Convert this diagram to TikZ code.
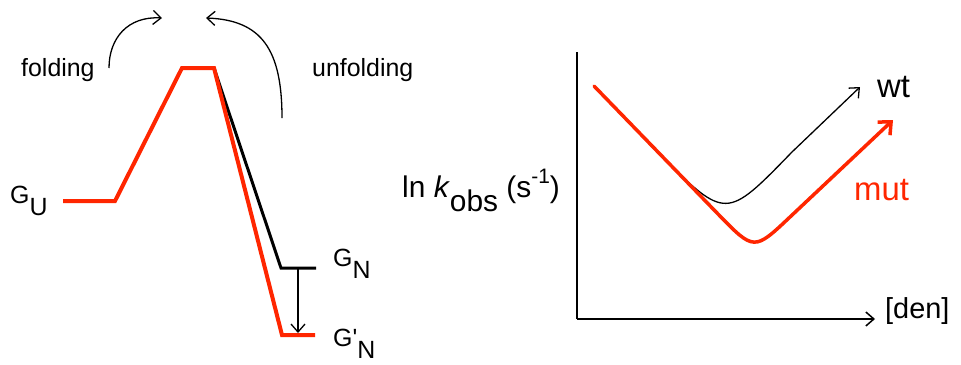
\documentclass[tikz,border=0pt]{standalone}
\usepackage{fontspec}
\setmainfont{Liberation Sans}
\newfontfamily\plainsans{Liberation Sans}
\usetikzlibrary{arrows.meta}
\definecolor{hotred}{RGB}{255,38,0}
\tikzset{
  lvlred/.style={draw=hotred,line width=4bp,line join=miter},
  lvlblk/.style={draw=black,line width=3bp,line join=miter},
  thinarrow/.style={draw=black,line width=1.3bp,-{Straight Barb[length=8bp,width=14bp,line width=1.3bp]}},
  lbl/.style={inner sep=0pt,anchor=base west,font=\fontsize{25}{30}\selectfont},
  rlbl/.style={inner sep=0pt,anchor=base west,font=\fontsize{29}{34}\selectfont},
  curvelbl/.style={inner sep=0pt,anchor=base west,font=\fontsize{33}{38}\selectfont},
}
\newcommand{\lowsub}[1]{\raisebox{-0.5em}{#1}}
\begin{document}
\begin{tikzpicture}[x=1bp,y=-1bp]
\useasboundingbox (0,0) rectangle (961,364);
% left panel coordinates
\coordinate (gu1) at (63,201);
\coordinate (gu2) at (115,201);
\coordinate (ts1) at (182,68);
\coordinate (ts2) at (214,68);
\coordinate (n1) at (281,268);
\coordinate (n2) at (316,268);
\coordinate (m1) at (282,335);
\coordinate (m2) at (315,335);
\coordinate (ar1) at (298,268);
\coordinate (ar2) at (298,333);
\draw[lvlblk] (ts2) -- (n1) -- (n2);
\draw[lvlred] (gu1) -- (gu2) -- (ts1) -- (ts2) -- (m1) -- (m2);
\draw[thinarrow] (ar1) -- (ar2);
% folding / unfolding arrows
\coordinate (fs) at (109,68);
\coordinate (fe) at (162,18);
\coordinate (us) at (282,118);
\coordinate (ue) at (206,18);
\draw[thinarrow] (fs) .. controls (109,38) and (128,16) .. (fe);
\draw[thinarrow] (us) .. controls (282,50) and (262,20) .. (ue);
% labels
\node[lbl] (fold) at (21,76) {folding};
\node[lbl] (unfold) at (312,76) {unfolding};
\node[lbl] (GU) at (10,203) {G\lowsub{U}};
\node[lbl] (GN) at (333,266) {G\lowsub{N}};
\node[lbl] (GNp) at (333,346) {G{\plainsans '}\lowsub{N}};
% right panel
\coordinate (O) at (577,319);
\coordinate (ytop) at (577,52);
\coordinate (xend) at (875,319);
\draw[line width=1.5bp] (ytop) -- (O);
\draw[line width=1.5bp,-{Straight Barb[length=8bp,width=14bp,line width=1.5bp]}] (O) -- (xend);
\coordinate (c0) at (594,86);
\coordinate (b1) at (660,155);
\coordinate (bc) at (726,220);
\coordinate (b2) at (792,152);
\coordinate (bend) at (860,87);
\coordinate (r1) at (718,214);
\coordinate (rc) at (754,251);
\coordinate (r2) at (790,217);
\coordinate (rend) at (893,120);
\draw[black,line width=1.3bp,-{Straight Barb[length=8bp,width=14bp,line width=1.3bp]}]
  (c0) -- (b1) .. controls (bc) and (bc) .. (b2) -- (bend);
\draw[hotred,line width=3.5bp,line cap=round,-{Straight Barb[length=10bp,width=18bp,line width=3.5bp]}]
  (c0) -- (r1) .. controls (rc) .. (r2) -- (rend);
\node[rlbl,font=\fontsize{30}{36}\selectfont] (ylab) at (402,197) {ln \textit{k}\lowsub{obs} (s\raisebox{0.45em}{\fontsize{21}{24}\selectfont -1})};
\node[curvelbl] (wt) at (877,97) {wt};
\node[curvelbl,text=hotred] (mut) at (854,200) {mut};
\node[rlbl] (den) at (885,318) {[den]};
\end{tikzpicture}
\end{document}
